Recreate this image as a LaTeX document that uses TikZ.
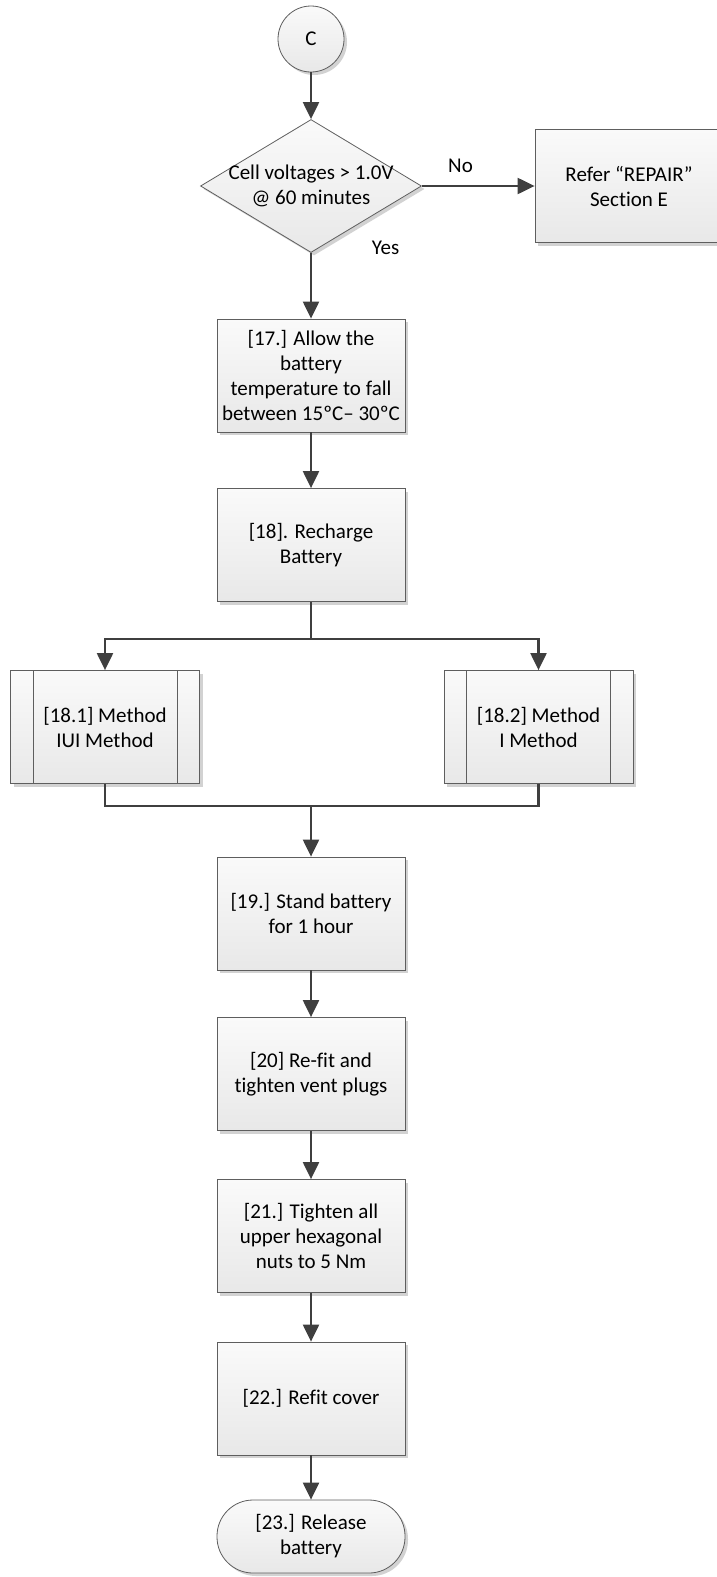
\documentclass[tikz,border=0pt]{standalone}
\usepackage{fontspec}
\setmainfont{Carlito}[Ligatures=NoCommon]
\usetikzlibrary{shapes.geometric,arrows.meta,shadows}

\definecolor{edgegray}{HTML}{5E5E5E}
\definecolor{linkgray}{HTML}{3F3F3F}
\definecolor{shadowgray}{HTML}{D2D2D2}

\tikzset{
  base/.style={draw=edgegray, line width=0.8pt, top color=black!2, bottom color=black!9,
    drop shadow={shadow xshift=3pt, shadow yshift=-3pt, fill=shadowgray, opacity=1},
    font=\fontsize{21}{25}\selectfont, align=center, inner sep=0pt},
  stepbox/.style={base, rectangle, minimum width=188pt, minimum height=113pt},
  subbox/.style={base, rectangle, minimum width=189pt, minimum height=113pt},
  decision/.style={base, diamond, minimum width=221pt, minimum height=133pt},
  connector/.style={base, circle, minimum size=66pt},
  terminal/.style={base, rectangle, rounded corners=36pt, minimum width=188pt, minimum height=73pt},
  txt/.style={font=\fontsize{21}{25}\selectfont, align=center, inner sep=0pt},
  link/.style={draw=linkgray, line width=2.2pt},
  arr/.style={link, -{Triangle[width=16pt,length=17pt]}},
  bar/.style={draw=edgegray, line width=0.8pt}
}

\begin{document}
\begin{tikzpicture}[x=1pt,y=-1pt]
\useasboundingbox (0,0) rectangle (716,1577);

% connector and decision
\node[connector] (c) at (311,39) {C};
\node[decision] (dec) at (311,186) {};
\node[txt] (dectext) at (dec.center) {Cell voltages > 1.0V\\@ 60 minutes};
\node[stepbox] (repair) at (629,186) {Refer “REPAIR”\\Section E};

% main steps
\node[stepbox] (s17) at (311,375.5) {[17.] Allow the\\battery\\temperature to fall\\between 15ºC– 30ºC};
\node[stepbox] (s18) at (311,545) {[18]. Recharge\\Battery};
\node[subbox] (m1) at (105,727) {[18.1] Method\\IUI Method};
\node[subbox] (m2) at (538.5,727) {[18.2] Method\\I Method};
\node[stepbox] (s19) at (311,913.5) {[19.] Stand battery\\for 1 hour};
\node[stepbox] (s20) at (311,1074) {[20] Re-fit and\\tighten vent plugs};
\node[stepbox] (s21) at (311,1236) {[21.] Tighten all\\upper hexagonal\\nuts to 5 Nm};
\node[stepbox] (s22) at (311,1398.5) {[22.] Refit cover};
\node[terminal] (s23) at (311,1536.5) {[23.] Release\\battery};

% side bars of the predefined-process boxes
\foreach \n in {m1,m2}{
  \draw[bar] ([xshift=23pt]\n.north west) -- ([xshift=23pt]\n.south west);
  \draw[bar] ([xshift=-23pt]\n.north east) -- ([xshift=-23pt]\n.south east);
}

% branch points
\coordinate (split) at (311,639);
\coordinate (join) at (311,806);

% connectors
\draw[arr] (c) -- (dec);
\draw[arr] (dec.east) -- (repair.west);
\draw[arr] (dec.south) -- (s17.north);
\draw[arr] (s17) -- (s18);
\draw[link] (s18.south) -- (split);
\draw[arr] (split) -| (m1.north);
\draw[arr] (split) -| (m2.north);
\draw[link] (m1.south) |- (join);
\draw[link] (m2.south) |- (join);
\draw[arr] (join) -- (s19.north);
\draw[arr] (s19) -- (s20);
\draw[arr] (s20) -- (s21);
\draw[arr] (s21) -- (s22);
\draw[arr] (s22) -- (s23);

% branch labels
\node[txt] (no) at (460.5,166) {No};
\node[txt] (yes) at (385.5,248) {Yes};
\end{tikzpicture}
\end{document}
